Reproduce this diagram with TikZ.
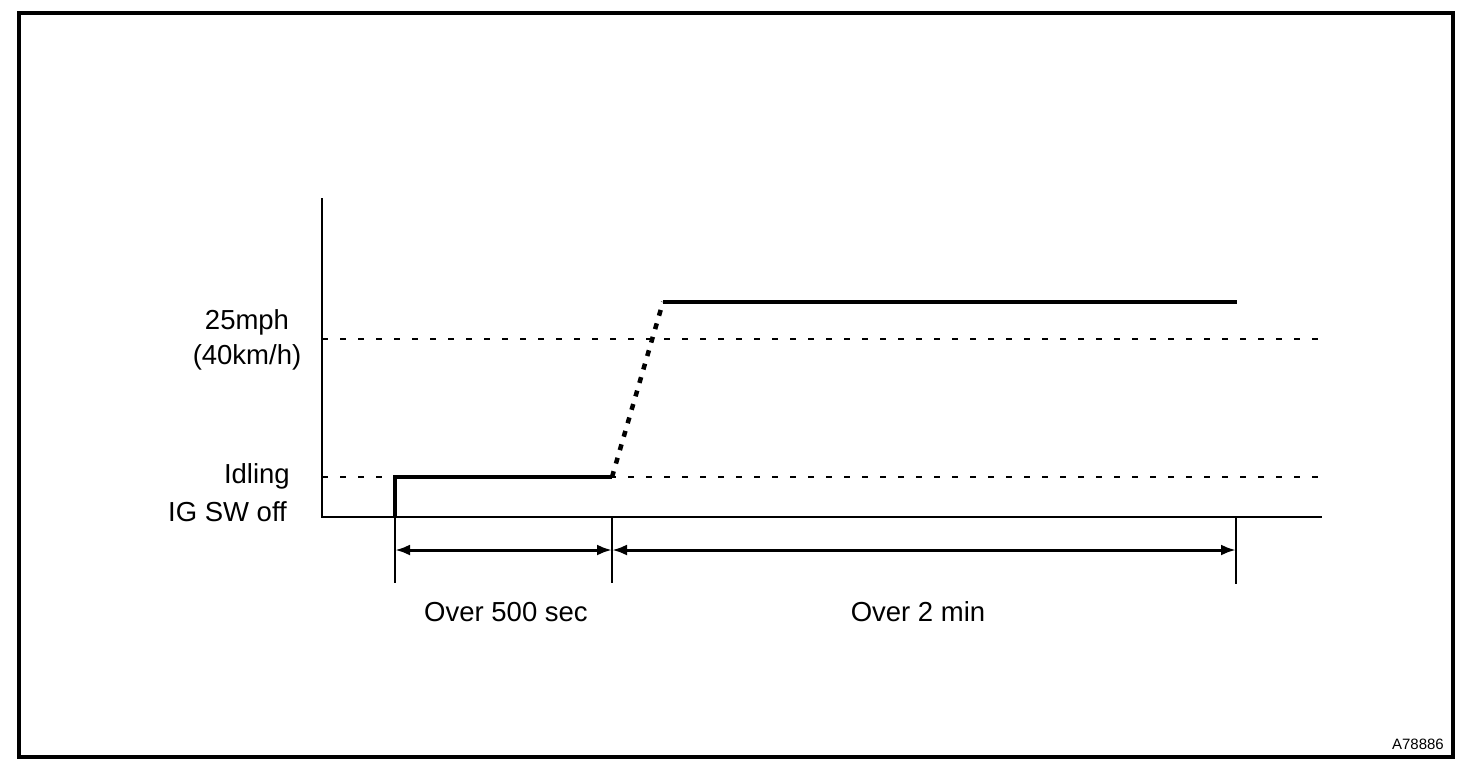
\documentclass[tikz,border=0pt]{standalone}
\usepackage{fontspec}
\setmainfont{Liberation Sans}
\usetikzlibrary{arrows.meta}
\begin{document}
\begin{tikzpicture}[x=1pt,y=-1pt,
  lbl/.style={font=\fontsize{27.5}{30}\selectfont, inner sep=0pt},
  frame/.style={line width=3.5pt},
  axis/.style={line width=1.6pt},
  guide/.style={line width=1.5pt, dash pattern=on 6pt off 12pt},
  signal/.style={line width=4pt},
  ramp/.style={line width=4.5pt, dash pattern=on 6pt off 8pt},
  tick/.style={line width=1.6pt},
  dim/.style={line width=3pt, {Latex[length=15pt,width=11pt]}-{Latex[length=15pt,width=11pt]}}]
\useasboundingbox (0,0) rectangle (1472,772);
\draw[frame] (19,13) rectangle (1453,757);
% axes
\coordinate (ytop) at (322,198);
\coordinate (orig) at (322,517);
\coordinate (xend) at (1322,517);
\draw[axis] (ytop) -- (orig) -- (xend);
% guide lines
\coordinate (g1a) at (322,339); \coordinate (g1b) at (1322,339);
\coordinate (g2a) at (322,477); \coordinate (g2b) at (1322,477);
\draw[guide] (g1a) -- (g1b);
\draw[guide] (g2a) -- (g2b);
% signal
\coordinate (s0) at (395,517);
\coordinate (s1) at (395,477);
\coordinate (s2) at (612,477);
\coordinate (s3) at (663,302);
\coordinate (s4) at (1237,302);
\draw[signal] (s0) -- (s1) -- (s2);
\draw[ramp] (s2) -- (s3);
\draw[signal] (s3) -- (s4);
% ticks
\coordinate (t1a) at (395,517); \coordinate (t1b) at (395,583);
\coordinate (t2a) at (612,517); \coordinate (t2b) at (612,583);
\coordinate (t3a) at (1236,517); \coordinate (t3b) at (1236,584);
\draw[tick] (t1a) -- (t1b);
\draw[tick] (t2a) -- (t2b);
\draw[tick] (t3a) -- (t3b);
% dimension arrows
\coordinate (d1) at (395,550);
\coordinate (d2) at (612,550);
\coordinate (d3) at (1236,550);
\draw[dim] (d1) -- (d2);
\draw[dim] (d2) -- (d3);
% labels
\node[lbl] (l25) at (247,322) {25mph};
\node[lbl] (l40) at (247,357) {(40km/h)};
\node[lbl, anchor=east] (lidl) at (290,476) {Idling};
\node[lbl, anchor=east] (loff) at (287,512) {IG SW off};
\node[lbl] (o500) at (506,612) {Over 500 sec};
\node[lbl] (o2) at (918,612) {Over 2 min};
\node[inner sep=0pt, font=\fontsize{15}{17}\selectfont, anchor=east] (code) at (1444,744) {A78886};
\end{tikzpicture}
\end{document}
